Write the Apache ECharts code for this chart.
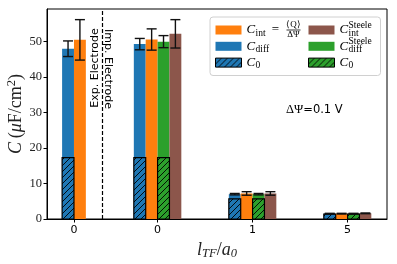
<!DOCTYPE html>
<html><head><meta charset="utf-8">
<script src="https://cdn.jsdelivr.net/npm/echarts@6/dist/echarts.min.js"></script>
<style>html,body{margin:0;padding:0;background:#fff}#c{width:397px;height:264px}</style>
</head><body><div id="c"></div>
<script>
// ---- data ----
const groupLabels = ['0', '0', '1', '5'];
const cDiff          = [48.0, 49.3, 7.0, 1.5];
const cDiffErr       = [2.2, 1.6, 0.2, 0.1];
const cInt           = [50.5, 50.6, 7.2, 1.5];
const cIntErr        = [5.7, 3.0, 0.5, 0.1];
const cDiffSteele    = [null, 50.0, 7.0, 1.5];
const cDiffSteeleErr = [null, 1.7, 0.2, 0.1];
const cIntSteele     = [null, 52.2, 7.2, 1.6];
const cIntSteeleErr  = [null, 4.0, 0.5, 0.1];
const c0             = [17.3, 17.3, 5.7, 1.4];
const c0Steele       = [null, 17.3, 5.7, 1.4];
const yTicks = [0, 10, 20, 30, 40, 50];

// ---- layout ----
const groupPos = [-0.88, 0, 1, 2];
const dividerPos = -0.582;
const BW = 0.125;
const slotExp = {diff: -0.5, int: 0.5};
const slot4 = {diff: -1.5, int: -0.5, diffS: 0.5, intS: 1.5};
const BLUE = '#1f77b4', ORANGE = '#ff7f0e', GREEN = '#2ca02c', BROWN = '#8c564b';

function xOf(i, key) {
  const s = i === 0 ? slotExp[key] : slot4[key];
  return groupPos[i] + s * BW;
}
function build(vals, key, errs) {
  const out = [];
  vals.forEach((v, i) => { if (v != null) out.push([xOf(i, key), v, errs ? errs[i] : 0]); });
  return out;
}
function hatch(color) {
  const s = 6, cv = document.createElement('canvas');
  cv.width = s; cv.height = s;
  const g = cv.getContext('2d');
  g.fillStyle = color; g.fillRect(0, 0, s, s);
  g.strokeStyle = '#000'; g.lineWidth = 0.9;
  g.beginPath();
  g.moveTo(0, s); g.lineTo(s, 0);
  g.moveTo(-1, 1); g.lineTo(1, -1);
  g.moveTo(s - 1, s + 1); g.lineTo(s + 1, s - 1);
  g.stroke();
  return {image: cv, repeat: 'repeat'};
}
const HB = hatch(BLUE), HG = hatch(GREEN);

function barRender(fill, edged) {
  return function (params, api) {
    const x = api.value(0), y = api.value(1);
    const p0 = api.coord([x - BW / 2, 0]);
    const p1 = api.coord([x + BW / 2, y]);
    return {
      type: 'rect',
      shape: {x: p0[0], y: p1[1], width: p1[0] - p0[0], height: p0[1] - p1[1]},
      style: edged ? {fill: fill, stroke: '#000', lineWidth: 1.2} : {fill: fill}
    };
  };
}
function errRender(params, api) {
  const x = api.value(0), y = api.value(1), e = api.value(2);
  const t = api.coord([x, y + e]), b = api.coord([x, y - e]);
  const hw = 5, st = {stroke: '#111', lineWidth: 1.4};
  return {type: 'group', children: [
    {type: 'line', shape: {x1: t[0], y1: t[1], x2: b[0], y2: b[1]}, style: st},
    {type: 'line', shape: {x1: t[0] - hw, y1: t[1], x2: t[0] + hw, y2: t[1]}, style: st},
    {type: 'line', shape: {x1: b[0] - hw, y1: b[1], x2: b[0] + hw, y2: b[1]}, style: st}
  ]};
}
function barSeries(name, color, data, edged, z) {
  return {
    type: 'custom', name: name, renderItem: barRender(color, edged), data: data, z: z,
    encode: {x: 0, y: 1},
    itemStyle: edged ? {color: color, borderColor: '#000', borderWidth: 1} : {color: color}
  };
}
const errData = [].concat(
  build(cDiff, 'diff', cDiffErr), build(cInt, 'int', cIntErr),
  build(cDiffSteele, 'diffS', cDiffSteeleErr), build(cIntSteele, 'intS', cIntSteeleErr));

const SERIF = 'Liberation Serif';
const legendRich = {
  pa40: {width: 40, fontSize: 9.5, lineHeight: 6},
  pb40: {width: 40, fontSize: 9.5, lineHeight: 6, padding: [0, 0, 3, 0]},
  pa9: {width: 9, fontSize: 9.5, lineHeight: 6},
  pb9: {width: 9, fontSize: 9.5, lineHeight: 6, padding: [0, 0, 3, 0]},
  num: {width: 14, align: 'center', fontFamily: SERIF, fontSize: 9, lineHeight: 6, color: '#000'},
  den: {width: 14, align: 'center', fontFamily: SERIF, fontSize: 9, lineHeight: 6, color: '#000'},
  c4: {width: 9, fontFamily: SERIF, fontStyle: 'italic', fontSize: 13, lineHeight: 4, color: '#000'},
  sub4: {fontFamily: SERIF, fontSize: 9.5, lineHeight: 4, padding: [6, 0, 0, 0], color: '#000'},
  subw: {width: 9, fontFamily: SERIF, fontSize: 9.5, lineHeight: 4, padding: [6, 0, 0, 0], color: '#000'},
  eq: {width: 22, align: 'center', fontFamily: SERIF, fontSize: 13, lineHeight: 4, color: '#000'},
  fl: {width: 14, height: 0.8, backgroundColor: '#000', lineHeight: 4},
  sup6: {fontFamily: SERIF, fontSize: 9.5, lineHeight: 6, color: '#000'},
  subB: {fontFamily: SERIF, fontSize: 9.5, lineHeight: 6, padding: [0, 0, 3, 0], color: '#000'}
};
const legendText = {
  Cint: '{pa40|}{num|⟨Q⟩}\n{c4|C}{subw|int}{eq|=}{fl|}\n{pb40|}{den|ΔΨ}',
  Cdiff: '{pa9|}\n{c4|C}{sub4|diff}\n{pb9|}',
  C0: '{pa9|}\n{c4|C}{sub4|0}\n{pb9|}',
  CintS: '{pa9|}{sup6|Steele}\n{c4|C}\n{pb9|}{subB|int}',
  CdiffS: '{pa9|}{sup6|Steele}\n{c4|C}\n{pb9|}{subB|diff}',
  C0S: '{pa9|}\n{c4|C}{sub4|0}\n{pb9|}'
};
function legendCfg(left, names) {
  return {
    orient: 'vertical', left: left, top: 20, padding: 0, itemGap: -5.2,
    itemWidth: 26, itemHeight: 9, icon: 'rect', z: 6,
    data: names.map(n => ({name: n, itemStyle: (n === 'C0' || n === 'C0S') ? {borderColor: '#000', borderWidth: 1} : {borderWidth: 0}})),
    formatter: n => legendText[n],
    textStyle: {rich: legendRich}
  };
}

const chart = echarts.init(document.getElementById('c'), null, {renderer: 'canvas'});
chart.setOption({
  animation: false,
  backgroundColor: '#fff',
  grid: {left: 47, right: 10, top: 9, bottom: 45, show: true, borderColor: '#000', borderWidth: 1,
    backgroundColor: 'transparent', containLabel: false, outerBoundsMode: 'none'},
  xAxis: {
    type: 'value', min: -1.164, max: 2.415,
    name: '{i|l}{s|TF}{r|/}{i|a}{s|0}', nameLocation: 'middle', nameGap: 21,
    nameTextStyle: {rich: {
      i: {fontFamily: SERIF, fontStyle: 'italic', fontSize: 18, color: '#222'},
      r: {fontFamily: SERIF, fontSize: 18, color: '#222'},
      s: {fontFamily: SERIF, fontStyle: 'italic', fontSize: 12.5, padding: [7, 0, 0, 0], color: '#222'}
    }},
    splitLine: {show: false},
    axisLine: {onZero: false, lineStyle: {color: '#000', width: 1}},
    axisTick: {customValues: groupPos, length: 3.5, lineStyle: {color: '#000'}},
    axisLabel: {customValues: groupPos, fontFamily: 'DejaVu Sans', fontSize: 11, color: '#000', margin: 6,
      formatter: v => { const i = groupPos.findIndex(p => Math.abs(p - v) < 1e-6); return i >= 0 ? groupLabels[i] : ''; }}
  },
  yAxis: {
    type: 'value', min: 0, max: 59.2,
    name: '{i|C}{r|\u2009(}{i|μ}{r|F/cm}{sup|2}{r|)}', nameLocation: 'middle', nameGap: 20,
    nameMoveOverlap: false,
    nameTextStyle: {rich: {
      i: {fontFamily: SERIF, fontStyle: 'italic', fontSize: 18, color: '#222'},
      r: {fontFamily: SERIF, fontSize: 18, color: '#222'},
      sup: {fontFamily: SERIF, fontSize: 12.5, padding: [0, 0, 9, 0], color: '#222'}
    }},
    splitLine: {show: false},
    axisLine: {show: true, onZero: false, lineStyle: {color: '#000', width: 1}},
    axisTick: {customValues: yTicks, length: 3.5, lineStyle: {color: '#000'}},
    axisLabel: {customValues: yTicks, fontFamily: SERIF, fontSize: 12.5, color: '#222', margin: 5}
  },
  legend: [legendCfg(215, ['Cint', 'Cdiff', 'C0']), legendCfg(308, ['CintS', 'CdiffS', 'C0S'])],
  graphic: [
    {type: 'rect', left: 209.5, top: 16.5, z: 5, shape: {width: 170.5, height: 58.5, r: 3},
     style: {fill: 'rgba(255,255,255,0.85)', stroke: '#d0d0d0', lineWidth: 1}},
    {type: 'text', x: 95, y: 68, rotation: Math.PI / 2, z: 5,
     style: {text: 'Exp. Electrode', fontFamily: 'DejaVu Sans', fontSize: 11, fill: '#000', align: 'center', verticalAlign: 'middle'}},
    {type: 'text', x: 107.5, y: 69, rotation: -Math.PI / 2, z: 5,
     style: {text: 'Imp. Electrode', fontFamily: 'DejaVu Sans', fontSize: 11, fill: '#000', align: 'center', verticalAlign: 'middle'}},
    {type: 'text', x: 286, y: 110, z: 5,
     style: {text: '{m|ΔΨ}{t|=0.1 V}', align: 'left', verticalAlign: 'middle',
       rich: {m: {fontFamily: SERIF, fontSize: 12.5, fill: '#000'}, t: {fontFamily: 'DejaVu Sans', fontSize: 11.5, fill: '#000'}}}}
  ],
  series: [
    barSeries('Cdiff', BLUE, build(cDiff, 'diff'), false, 2),
    barSeries('Cint', ORANGE, build(cInt, 'int'), false, 2),
    barSeries('CdiffS', GREEN, build(cDiffSteele, 'diffS'), false, 2),
    barSeries('CintS', BROWN, build(cIntSteele, 'intS'), false, 2),
    barSeries('C0', HB, build(c0, 'diff'), true, 3),
    barSeries('C0S', HG, build(c0Steele, 'diffS'), true, 3),
    {
      type: 'custom', name: 'err', renderItem: errRender, data: errData, z: 4, encode: {x: 0, y: 1},
      markLine: {silent: true, symbol: 'none', label: {show: false},
        lineStyle: {color: '#000', type: [4, 2], width: 1.2}, data: [{xAxis: dividerPos}]}
    }
  ]
});
</script>
</body></html>
